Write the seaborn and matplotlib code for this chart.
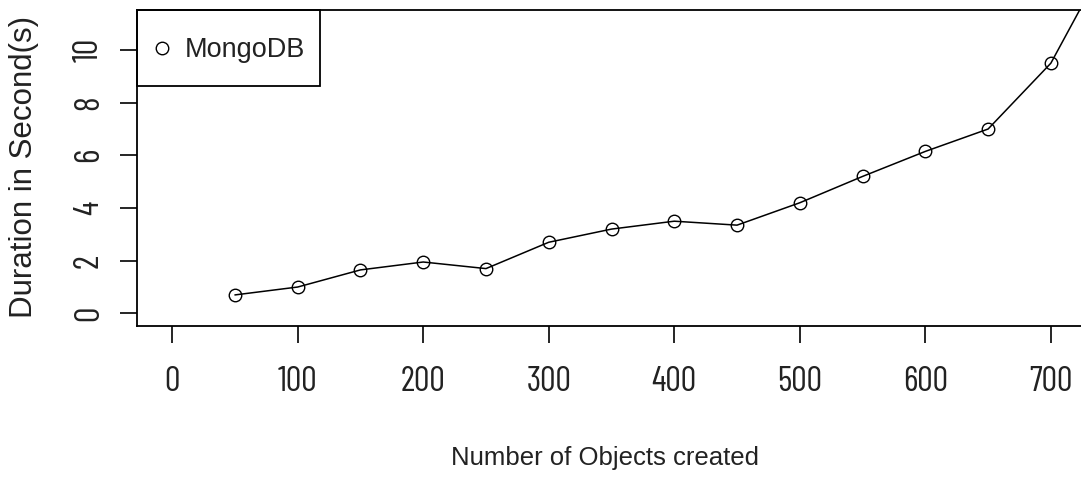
import matplotlib
matplotlib.use("Agg")
import matplotlib.pyplot as plt
from matplotlib import font_manager
from matplotlib.lines import Line2D
from matplotlib.patches import Rectangle
import seaborn as sns
import pandas as pd

# Benchmark results: time to create N objects in MongoDB
objects_created = [50, 100, 150, 200, 250, 300, 350, 400, 450, 500, 550, 600, 650, 700, 750]
duration_s = [0.7, 1.0, 1.65, 1.95, 1.7, 2.7, 3.2, 3.5, 3.35, 4.2, 5.2, 6.15, 7.0, 9.5, 13.9]
x_ticks = [0, 100, 200, 300, 400, 500, 600, 700]
y_ticks = [0, 2, 4, 6, 8, 10]
series_name = "MongoDB"

df = pd.DataFrame({"objects": objects_created, "duration": duration_s})

sns.set_style("white")
available = {f.name for f in font_manager.fontManager.ttflist}
regular = "Liberation Sans" if "Liberation Sans" in available else "DejaVu Sans"
narrow = next((n for n in ["Barlow Condensed", "PT Sans Narrow", "Archivo Narrow", "Roboto Condensed"]
               if n in available), regular)
plt.rcParams["font.family"] = [regular, "DejaVu Sans"]

W, H = 1081, 478
left_px, right_px, top_px, bottom_px = 137, 1086, 10, 326
fig = plt.figure(figsize=(W / 100, H / 100), dpi=100)
ax = fig.add_axes([left_px / W, 1 - bottom_px / H,
                   (right_px - left_px) / W, (bottom_px - top_px) / H])
aw, ah = right_px - left_px, bottom_px - top_px

sns.lineplot(data=df, x="objects", y="duration", ax=ax, color="black", lw=1.1,
             marker="o", markersize=9, markerfacecolor="none",
             markeredgecolor="black", markeredgewidth=1.0, legend=False)

ax.set_xlim(-28, 728)
ax.set_ylim(-0.48, 11.52)
ax.set_xticks(x_ticks)
ax.set_yticks(y_ticks)

tick_font = dict(family=[narrow, "DejaVu Sans"], size=25, weight="normal")
ax.set_xticklabels([str(v) for v in x_ticks], fontdict=tick_font, color="#222222")
ax.set_yticklabels([str(v) for v in y_ticks], fontdict=tick_font, color="#222222",
                   rotation=90, va="center")
ax.tick_params(axis="both", direction="out", length=12, width=1.2, color="black",
               bottom=True, left=True)
ax.tick_params(axis="x", pad=17)
ax.tick_params(axis="y", pad=11)

for side in ["left", "bottom", "top"]:
    ax.spines[side].set_visible(True)
    ax.spines[side].set_color("black")
    ax.spines[side].set_linewidth(1.3)
ax.spines["right"].set_visible(False)

ax.set_xlabel("Number of Objects created", fontsize=18.5, color="#222222", va="center")
ax.xaxis.set_label_coords((605 - left_px) / aw, (bottom_px - 458) / ah)
ax.set_ylabel("Duration in Second(s)", fontsize=22.5, color="#222222", va="center")
ax.yaxis.set_label_coords((24 - left_px) / aw, (bottom_px - 167) / ah)

# Legend box in the top-left corner of the plotting area
ax.add_patch(Rectangle((0, 1 - (86 - top_px) / ah), (320 - left_px) / aw, (86 - top_px) / ah,
                       transform=ax.transAxes, fill=False, edgecolor="black",
                       linewidth=1.3, clip_on=False, zorder=5))
handle = Line2D([], [], linestyle="none", marker="o", markersize=9,
                markerfacecolor="none", markeredgecolor="black", markeredgewidth=1.0)
fs = 19.5
hl = 0.4
hl_px = hl * fs * 100 / 72
leg = ax.legend([handle], [series_name], loc="center left",
                bbox_to_anchor=((162 - hl_px / 2 - left_px) / aw, 1 - (50 - top_px) / ah),
                borderaxespad=0, borderpad=0, frameon=False, fontsize=fs,
                handlelength=hl, handletextpad=(185 - 162 - hl_px / 2) / (fs * 100 / 72))
for t in leg.get_texts():
    t.set_color("#222222")

fig.savefig("out.png", dpi=100, facecolor="white")
